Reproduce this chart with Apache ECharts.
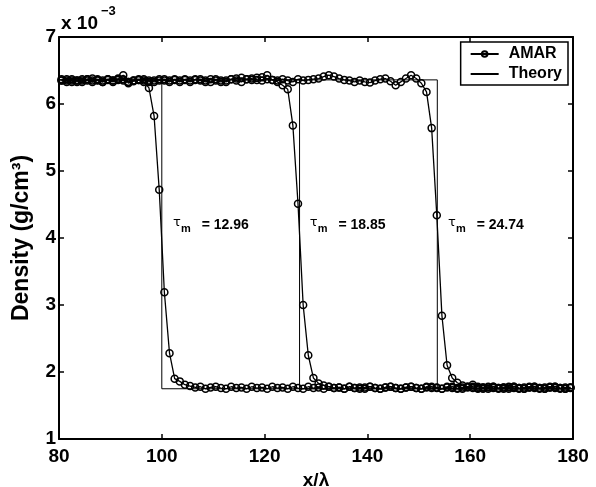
<!DOCTYPE html>
<html>
<head>
<meta charset="utf-8">
<script src="https://cdn.jsdelivr.net/npm/echarts@6/dist/echarts.min.js"></script>
<style>html,body{margin:0;padding:0;background:#fff;}#c{width:596px;height:487px;}</style>
</head>
<body>
<div id="c"></div>
<script>
// Sample positions (x/λ) of the AMAR profiles
const xs = [80.5,81.5,82.5,83.5,84.5,85.5,86.5,87.5,88.5,89.5,
  90.5,91.5,92.5,93.5,94.5,95.5,96.5,97.5,98.5,99.5,
  100.5,101.5,102.5,103.5,104.5,105.5,106.5,107.5,108.5,109.5,
  110.5,111.5,112.5,113.5,114.5,115.5,116.5,117.5,118.5,119.5,
  120.5,121.5,122.5,123.5,124.5,125.5,126.5,127.5,128.5,129.5,
  130.5,131.5,132.5,133.5,134.5,135.5,136.5,137.5,138.5,139.5,
  140.5,141.5,142.5,143.5,144.5,145.5,146.5,147.5,148.5,149.5,
  150.5,151.5,152.5,153.5,154.5,155.5,156.5,157.5,158.5,159.5,
  160.5,161.5,162.5,163.5,164.5,165.5,166.5,167.5,168.5,169.5,
  170.5,171.5,172.5,173.5,174.5,175.5,176.5,177.5,178.5,179.5];

// AMAR density (x 1e-3 g/cm3), profile at tau_m = 12.96
const amar1 = [6.35,6.33,6.37,6.35,6.33,6.37,6.38,6.35,6.33,6.37,
  6.35,6.38,6.43,6.31,6.34,6.36,6.33,6.24,5.82,4.72,
  3.19,2.28,1.90,1.86,1.81,1.79,1.77,1.78,1.75,1.77,
  1.78,1.76,1.75,1.78,1.76,1.77,1.75,1.78,1.76,1.77,
  1.75,1.78,1.76,1.77,1.75,1.78,1.76,1.75,1.78,1.76,
  1.77,1.75,1.78,1.76,1.77,1.75,1.78,1.76,1.75,1.77,
  1.78,1.76,1.75,1.77,1.78,1.76,1.75,1.77,1.78,1.76,
  1.75,1.78,1.76,1.77,1.75,1.78,1.76,1.75,1.77,1.78,
  1.76,1.75,1.77,1.78,1.76,1.75,1.77,1.78,1.76,1.75,
  1.77,1.78,1.76,1.75,1.77,1.78,1.76,1.75,1.77,1.76];
// profile at tau_m = 18.85
const amar2 = [6.37,6.35,6.33,6.35,6.37,6.35,6.33,6.37,6.35,6.36,
  6.33,6.37,6.35,6.33,6.35,6.37,6.35,6.33,6.35,6.37,
  6.35,6.33,6.37,6.35,6.36,6.33,6.37,6.35,6.33,6.37,
  6.35,6.33,6.35,6.37,6.35,6.33,6.37,6.38,6.36,6.35,
  6.43,6.36,6.33,6.28,6.22,5.68,4.51,3.00,2.25,1.91,
  1.83,1.80,1.78,1.76,1.77,1.75,1.78,1.76,1.77,1.75,
  1.78,1.76,1.75,1.77,1.78,1.76,1.75,1.77,1.78,1.76,
  1.75,1.77,1.78,1.76,1.75,1.77,1.78,1.76,1.75,1.77,
  1.78,1.76,1.75,1.77,1.78,1.76,1.75,1.77,1.78,1.76,
  1.75,1.77,1.78,1.76,1.75,1.77,1.78,1.76,1.75,1.77];
// profile at tau_m = 24.74
const amar3 = [6.35,6.37,6.35,6.33,6.35,6.37,6.35,6.36,6.33,6.37,
  6.35,6.36,6.37,6.33,6.35,6.36,6.37,6.35,6.33,6.35,
  6.37,6.35,6.36,6.33,6.37,6.35,6.36,6.37,6.35,6.33,
  6.37,6.35,6.33,6.37,6.38,6.39,6.37,6.36,6.39,6.40,
  6.37,6.36,6.35,6.37,6.35,6.33,6.37,6.35,6.36,6.37,
  6.38,6.41,6.43,6.41,6.38,6.36,6.35,6.33,6.35,6.33,
  6.32,6.35,6.37,6.38,6.34,6.28,6.33,6.38,6.43,6.38,
  6.31,6.18,5.64,4.34,2.84,2.10,1.91,1.84,1.80,1.78,
  1.81,1.78,1.77,1.75,1.78,1.76,1.77,1.75,1.78,1.76,
  1.75,1.77,1.78,1.76,1.75,1.77,1.78,1.76,1.75,1.77];

// Theory step profiles
const theoryHigh = 6.36;
const theoryLow = 1.75;
const theoryFronts = [100, 126.8, 153.6];

// tau_m annotations
const tauValues = ['12.96', '18.85', '24.74'];
const tauX = [102.2, 128.8, 155.7];
const tauY = 4.19;

const xTicks = [80, 100, 120, 140, 160, 180];
const yTicks = [1, 2, 3, 4, 5, 6, 7];

const FONT = 'Liberation Sans, Arial, Helvetica, sans-serif';
const chart = echarts.init(document.getElementById('c'), null, {renderer: 'canvas'});

const pair = (x, y) => x.map((v, i) => [v, y[i]]);
const series = [];
[amar1, amar2, amar3].forEach(a => {
  series.push({
    name: 'AMAR', type: 'line', data: pair(xs, a),
    symbol: 'circle', symbolSize: 7,
    itemStyle: {color: 'rgba(0,0,0,0)', borderColor: '#000', borderWidth: 1.5},
    lineStyle: {color: '#000', width: 1.3},
    animation: false, z: 3
  });
});
theoryFronts.forEach(f => {
  series.push({
    name: 'Theory', type: 'line',
    data: [[80, theoryHigh], [f, theoryHigh], [f, theoryLow], [180, theoryLow]],
    symbol: 'none', lineStyle: {color: '#000', width: 1}, itemStyle: {color: '#000'},
    animation: false, z: 2
  });
});
series.push({
  name: 'tau', type: 'scatter', symbolSize: 0, silent: true, animation: false,
  itemStyle: {opacity: 1},
  data: tauX.map((x, i) => ({value: [x, tauY], v: tauValues[i]})),
  label: {
    show: true, position: 'right', distance: 0, color: '#000', offset: [0, 0],
    formatter: p => '{t|τ}{s|m}{e|=}{v| ' + p.data.v + '}',
    rich: {
      t: {fontSize: 13, fontFamily: 'DejaVu Sans', color: '#000', verticalAlign: 'top', lineHeight: 13},
      s: {fontSize: 11, fontWeight: 'bold', fontFamily: FONT, color: '#000', verticalAlign: 'bottom', lineHeight: 11},
      e: {fontSize: 14, fontWeight: 'bold', fontFamily: FONT, color: '#000', verticalAlign: 'middle', lineHeight: 18, padding: [0, 0, 0, 11]},
      v: {fontSize: 14, fontWeight: 'bold', fontFamily: FONT, color: '#000', verticalAlign: 'middle', lineHeight: 18}
    }
  }
});

const axisCommon = {
  axisLine: {show: true, lineStyle: {color: '#000', width: 2}},
  axisTick: {show: true, inside: true, length: 5, lineStyle: {color: '#000', width: 1.5}},
  splitLine: {show: false}
};

chart.setOption({
  backgroundColor: '#fff',
  animation: false,
  grid: {left: 59, right: 23, top: 37, bottom: 48, containLabel: false, outerBoundsMode: 'none'},
  legend: {
    data: [
      {name: 'AMAR'},
      {name: 'Theory', itemStyle: {opacity: 0}}
    ],
    orient: 'vertical', right: 28, top: 42,
    backgroundColor: '#fff', borderColor: '#000', borderWidth: 1.5,
    padding: [4, 6, 3, 9], itemGap: 4, itemWidth: 28, itemHeight: 7,
    textStyle: {fontFamily: FONT, fontWeight: 'bold', fontSize: 16, color: '#000', padding: [0, 0, 0, 5]}
  },
  xAxis: [
    Object.assign({type: 'value', min: xTicks[0], max: xTicks[xTicks.length - 1], interval: 20, position: 'bottom',
      name: 'x/λ', nameLocation: 'middle', nameGap: 29,
      nameTextStyle: {fontFamily: FONT, fontWeight: 'bold', fontSize: 19, color: '#000'},
      axisLabel: {fontFamily: FONT, fontWeight: 'bold', fontSize: 19, color: '#000', margin: 8}}, axisCommon),
    Object.assign({type: 'value', min: 80, max: 180, interval: 20, position: 'top', axisLabel: {show: false}}, axisCommon)
  ],
  yAxis: [
    Object.assign({type: 'value', min: yTicks[0], max: yTicks[yTicks.length - 1], interval: 1, position: 'left',
      name: 'Density (g/cm³)', nameLocation: 'middle', nameGap: 26,
      nameTextStyle: {fontFamily: FONT, fontWeight: 'bold', fontSize: 23, color: '#000'},
      axisLabel: {fontFamily: FONT, fontWeight: 'bold', fontSize: 19, color: '#000', margin: 3}}, axisCommon),
    Object.assign({type: 'value', min: 1, max: 7, interval: 1, position: 'right', axisLabel: {show: false}}, axisCommon)
  ],
  graphic: [
    {type: 'text', left: 61, top: 14, style: {text: 'x 10', font: 'bold 19px ' + FONT, fill: '#000'}},
    {type: 'text', left: 101, top: 5, style: {text: '−3', font: 'bold 13px ' + FONT, fill: '#000'}}
  ],
  series: series
});
</script>
</body>
</html>
